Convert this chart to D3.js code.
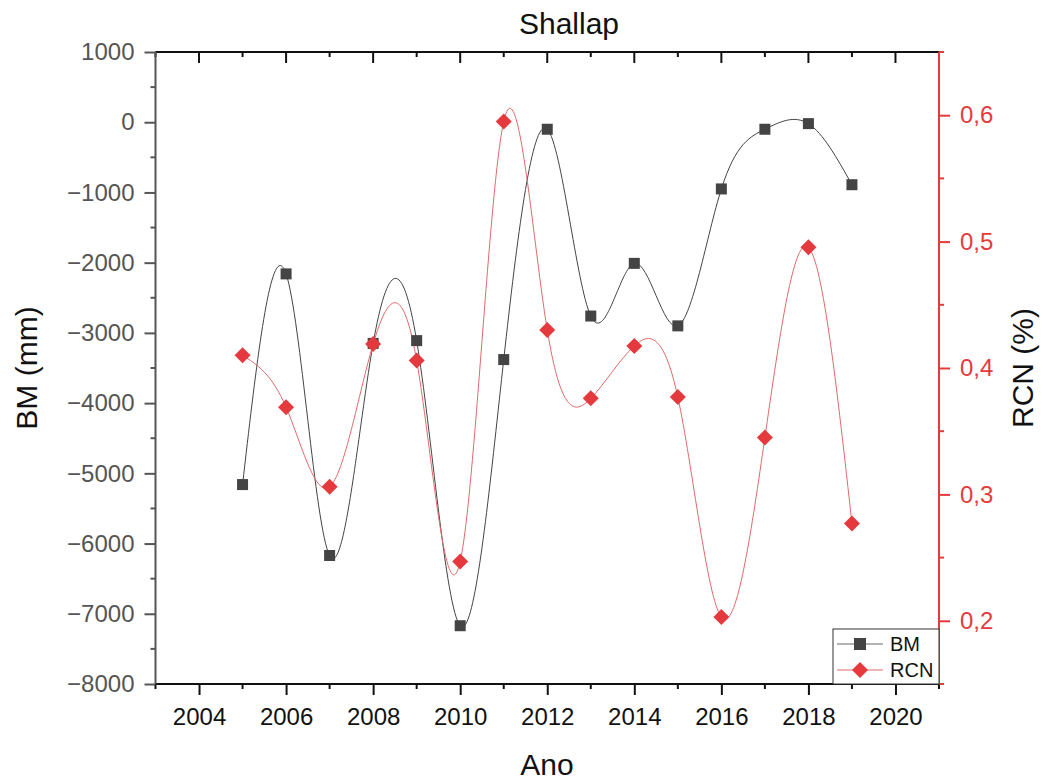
<!DOCTYPE html>
<html>
<head>
<meta charset="utf-8">
<script src="https://cdn.jsdelivr.net/npm/d3@7"></script>
<style>
  body { margin: 0; background: #fff; }
  svg { font-family: Arial, "Liberation Sans", sans-serif; }
</style>
</head>
<body>
<svg id="chart" width="1043" height="780"></svg>
<script>
// Annual mass balance (BM) and RCN ratio for Shallap glacier
const years = [2005, 2006, 2007, 2008, 2009, 2010, 2011, 2012, 2013, 2014, 2015, 2016, 2017, 2018, 2019];
const bmValues = [-5160, -2160, -6170, -3150, -3110, -7170, -3380, -100, -2760, -2010, -2900, -950, -100, -20, -890];
const rcnValues = [0.410, 0.369, 0.306, 0.419, 0.406, 0.247, 0.595, 0.430, 0.376, 0.4175, 0.377, 0.203, 0.345, 0.4955, 0.277];
const xTicks = [2004, 2006, 2008, 2010, 2012, 2014, 2016, 2018, 2020];
const leftTicks = [1000, 0, -1000, -2000, -3000, -4000, -5000, -6000, -7000, -8000];
const rightTicks = [0.2, 0.3, 0.4, 0.5, 0.6];

const svg = d3.select("#chart");
const M = { left: 155.5, right: 939, top: 52, bottom: 684 };

const x = d3.scaleLinear().domain([2003, 2021]).range([M.left, M.right]);
const yL = d3.scaleLinear().domain([-8000, 1000]).range([M.bottom, M.top]);
const yR = d3.scaleLinear().domain([0.15, 0.65]).range([M.bottom, M.top]);

const red = "#e53a3d";
const grey = "#555555";
const fmt = d3.format(".1f");
const comma = v => fmt(v).replace(".", ",");

// Curves
const bmLine = d3.line().x((d, i) => x(years[i])).y(d => yL(d)).curve(d3.curveNatural);
const rcnLine = d3.line().x((d, i) => x(years[i])).y(d => yR(d)).curve(d3.curveNatural);

const plot = svg.append("g");
plot.append("path").datum(bmValues).attr("d", bmLine)
  .attr("fill", "none").attr("stroke", "#444").attr("stroke-width", 1);
plot.append("path").datum(rcnValues).attr("d", rcnLine)
  .attr("fill", "none").attr("stroke", "#e06a6a").attr("stroke-width", 1);

// Markers
const sq = 11;
plot.selectAll("rect.bm").data(bmValues).join("rect").attr("class", "bm")
  .attr("x", (d, i) => x(years[i]) - sq / 2).attr("y", d => yL(d) - sq / 2)
  .attr("width", sq).attr("height", sq).attr("fill", "#444");
const dia = 8;
plot.selectAll("path.rcn").data(rcnValues).join("path").attr("class", "rcn")
  .attr("transform", (d, i) => `translate(${x(years[i])},${yR(d)})`)
  .attr("d", `M0,${-dia}L${dia},0L0,${dia}L${-dia},0Z`).attr("fill", red);

// Axes
const bottomAxis = svg.append("g").attr("transform", `translate(0,${M.bottom})`)
  .call(d3.axisBottom(x).tickValues(xTicks).tickFormat(d3.format("d")).tickSize(11).tickPadding(13));
bottomAxis.selectAll(".tick line").attr("stroke", "#111").attr("stroke-width", 2);
bottomAxis.selectAll(".tick text").attr("fill", "#111").style("font-size", "24px");
bottomAxis.select(".domain").remove();
bottomAxis.selectAll(".minor").data(d3.range(2003, 2022, 2)).join("line").attr("class", "minor")
  .attr("x1", d => x(d)).attr("x2", d => x(d)).attr("y1", 0).attr("y2", 5)
  .attr("stroke", "#111").attr("stroke-width", 2);

const topAxis = svg.append("g").attr("transform", `translate(0,${M.top})`);
topAxis.selectAll(".maj").data(xTicks).join("line").attr("class", "maj")
  .attr("x1", d => x(d)).attr("x2", d => x(d)).attr("y1", 0).attr("y2", 11)
  .attr("stroke", "#111").attr("stroke-width", 2);
topAxis.selectAll(".minor").data(d3.range(2003, 2022, 2)).join("line").attr("class", "minor")
  .attr("x1", d => x(d)).attr("x2", d => x(d)).attr("y1", 0).attr("y2", 5)
  .attr("stroke", "#111").attr("stroke-width", 2);
svg.append("line").attr("x1", M.left).attr("x2", M.right).attr("y1", M.top).attr("y2", M.top)
  .attr("stroke", "#111").attr("stroke-width", 2);
svg.append("line").attr("x1", M.left).attr("x2", M.right).attr("y1", M.bottom).attr("y2", M.bottom)
  .attr("stroke", "#111").attr("stroke-width", 2);

const leftAxis = svg.append("g").attr("transform", `translate(${M.left},0)`)
  .call(d3.axisLeft(yL).tickValues(leftTicks).tickFormat(d => d < 0 ? "\u2212" + Math.abs(d) : d).tickSize(11).tickPadding(10));
leftAxis.select(".domain").remove();
leftAxis.selectAll(".tick line").attr("stroke", grey).attr("stroke-width", 2);
leftAxis.selectAll(".tick text").attr("fill", grey).style("font-size", "24px");
leftAxis.selectAll(".minor").data(d3.range(-7500, 1000, 1000)).join("line").attr("class", "minor")
  .attr("x1", 0).attr("x2", -5).attr("y1", d => yL(d)).attr("y2", d => yL(d))
  .attr("stroke", grey).attr("stroke-width", 2);
svg.append("line").attr("x1", M.left).attr("x2", M.left).attr("y1", M.top).attr("y2", M.bottom)
  .attr("stroke", grey).attr("stroke-width", 2);

const rightAxis = svg.append("g").attr("transform", `translate(${M.right},0)`)
  .call(d3.axisRight(yR).tickValues(rightTicks).tickFormat(comma).tickSize(11).tickPadding(10));
rightAxis.select(".domain").remove();
rightAxis.selectAll(".tick line").attr("stroke", red).attr("stroke-width", 2);
rightAxis.selectAll(".tick text").attr("fill", red).style("font-size", "24px");
rightAxis.selectAll(".minor").data([0.15, 0.25, 0.35, 0.45, 0.55, 0.65]).join("line").attr("class", "minor")
  .attr("x1", 0).attr("x2", 5).attr("y1", d => yR(d)).attr("y2", d => yR(d))
  .attr("stroke", red).attr("stroke-width", 2);
svg.append("line").attr("x1", M.right).attr("x2", M.right).attr("y1", M.top).attr("y2", M.bottom)
  .attr("stroke", red).attr("stroke-width", 2);

// Titles
svg.append("text").attr("x", 569).attr("y", 34).attr("text-anchor", "middle")
  .style("font-size", "30px").attr("fill", "#111").text("Shallap");
svg.append("text").attr("x", 547).attr("y", 775).attr("text-anchor", "middle")
  .style("font-size", "30px").attr("fill", "#111").text("Ano");
svg.append("text").attr("transform", `translate(37,${(M.top + M.bottom) / 2}) rotate(-90)`)
  .attr("text-anchor", "middle").style("font-size", "30px").attr("fill", "#111").text("BM (mm)");
svg.append("text").attr("transform", `translate(1033,${(M.top + M.bottom) / 2}) rotate(-90)`)
  .attr("text-anchor", "middle").style("font-size", "30px").attr("fill", "#111").text("RCN (%)");

// Legend
const lg = svg.append("g").attr("transform", `translate(833,629)`);
lg.append("rect").attr("width", M.right - 833).attr("height", M.bottom - 629)
  .attr("fill", "#fff").attr("stroke", "#333").attr("stroke-width", 1);
lg.append("line").attr("x1", 4).attr("x2", 50).attr("y1", 15).attr("y2", 15).attr("stroke", "#666").attr("stroke-width", 1);
lg.append("rect").attr("x", 21).attr("y", 9).attr("width", 12).attr("height", 12).attr("fill", "#444");
lg.append("text").attr("x", 57).attr("y", 22).style("font-size", "20px").attr("fill", "#111").text("BM");
lg.append("line").attr("x1", 4).attr("x2", 50).attr("y1", 41).attr("y2", 41).attr("stroke", "#e06a6a").attr("stroke-width", 1);
lg.append("path").attr("transform", "translate(27,41)").attr("d", "M0,-8L8,0L0,8L-8,0Z").attr("fill", red);
lg.append("text").attr("x", 57).attr("y", 48).style("font-size", "20px").attr("fill", "#111").text("RCN");
</script>
</body>
</html>
